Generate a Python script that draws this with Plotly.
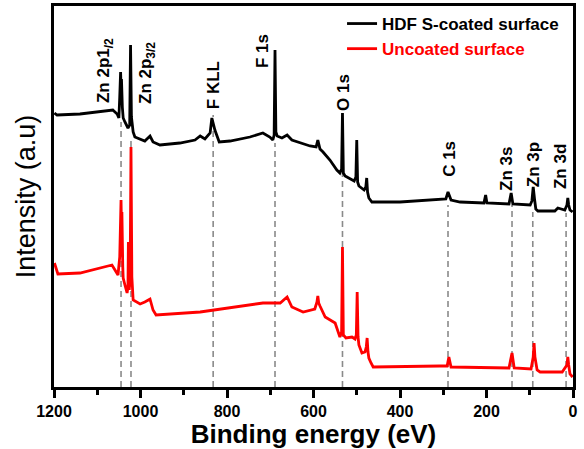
import plotly.graph_objects as go

# ---------------- data ----------------
coated_energy = [1199, 1193, 1140, 1094, 1064, 1054, 1050, 1048, 1046, 1045, 1044, 1042, 1040, 1036,
                 1029, 1025, 1023, 1021, 1017, 1013, 1001, 990, 978, 971, 955, 909, 874, 862, 851,
                 839, 835, 828, 818, 793, 747, 717, 701, 694, 691, 689, 687, 684, 673, 661, 650,
                 631, 608, 594, 590, 585, 578, 562, 546, 539, 535, 533, 531, 527, 516, 506, 502,
                 500, 498, 495, 483, 479, 477, 475, 472, 465, 400, 308, 294, 289, 282, 261, 206,
                 202, 199, 148, 143, 139, 99, 95, 92, 89, 86, 81, 42, 35, 19, 14, 12, 10, 7, 1]
coated_intensity = [274, 272, 273, 275, 277, 273, 269, 290, 315, 300, 308, 280, 269, 265,
                    259, 262, 342, 270, 255, 250, 248, 246, 251, 245, 242, 244, 247, 251, 248,
                    254, 269, 257, 245, 246, 250, 254, 250, 247, 252, 337, 255, 251, 249, 252, 247,
                    244, 241, 240, 247, 238, 235, 227, 217, 214, 218, 274, 214, 211, 208, 206, 210,
                    247, 205, 201, 197, 200, 209, 195, 189, 185, 185, 187, 188, 195, 187, 185, 184,
                    192, 184, 183, 194, 183, 182, 186, 200, 188, 178, 176, 176, 179, 177, 182, 189,
                    182, 177, 175]

uncoated_energy = [1199, 1195, 1191, 1140, 1094, 1066, 1059, 1052, 1048, 1045, 1044, 1043, 1041, 1040,
                   1036, 1031, 1029, 1028, 1026, 1024, 1022, 1020, 1017, 1001, 990, 978, 971, 964,
                   862, 717, 677, 661, 650, 624, 597, 592, 590, 588, 585, 573, 550, 539, 535, 533,
                   531, 525, 511, 504, 501, 499, 497, 495, 488, 481, 478, 476, 474, 472, 467, 462,
                   308, 291, 287, 282, 148, 141, 136, 97, 92, 90, 88, 83, 76, 25, 14, 12, 10, 7, 1]
uncoated_intensity = [124, 117, 113, 114, 119, 122, 117, 112, 130, 187, 160, 175, 120, 109,
                      102, 94, 100, 145, 97, 110, 240, 110, 87, 83, 85, 88, 77, 72,
                      75, 84, 84, 90, 80, 75, 78, 85, 91, 84, 81, 70, 64, 50, 55, 140,
                      52, 49, 50, 48, 52, 95, 50, 42, 34, 35, 40, 49, 35, 29, 24, 20,
                      21, 21, 30, 20, 19, 34, 19, 18, 30, 44, 30, 17, 15, 15, 22, 30, 22, 13, 10]

peak_names = ["Zn 2p1<sub>/2</sub>", "Zn 2p<sub>3/2</sub>", "F KLL", "F 1s", "O 1s",
              "C 1s", "Zn 3s", "Zn 3p", "Zn 3d"]
peak_energy = [1045, 1022, 832, 689, 533, 289, 141, 93, 16]
guide_top = [265, 250, 272, 244, 214, 182, 182, 175, 174]
label_energy = [1082, 985, 832, 719, 532, 287, 155, 92, 30]
label_intensity = [316, 314, 302, 336, 295, 228, 218, 222, 220]

x_ticks = [1200, 1000, 800, 600, 400, 200, 0]

FONT = "Arial, Liberation Sans, sans-serif"

fig = go.Figure()

# dashed guide lines
gx, gy = [], []
for e, t in zip(peak_energy, guide_top):
    gx += [e, e, None]
    gy += [0, t, None]
fig.add_trace(go.Scatter(x=gx, y=gy, mode="lines", showlegend=False, hoverinfo="skip",
                         line=dict(color="#8a8a8a", width=1.6, dash="6px,4px")))

fig.add_trace(go.Scatter(x=coated_energy, y=coated_intensity, mode="lines",
                         name="HDF S-coated surface",
                         line=dict(color="black", width=2.8)))
fig.add_trace(go.Scatter(x=uncoated_energy, y=uncoated_intensity, mode="lines",
                         name="<span style='color:#ff0000'>Uncoated surface</span>",
                         line=dict(color="#ff0000", width=2.8)))

for name, e, i in zip(peak_names, label_energy, label_intensity):
    fig.add_annotation(x=e, y=i, text=name, textangle=-90, showarrow=False,
                       xanchor="center", yanchor="middle",
                       font=dict(family=FONT, size=17, color="black", weight="bold"))

fig.update_layout(
    width=584, height=449,
    margin=dict(l=54, r=11, t=6, b=62, autoexpand=False),
    paper_bgcolor="white", plot_bgcolor="white",
    font=dict(family=FONT, color="black"),
    legend=dict(x=0.555, y=1.0, xanchor="left", yanchor="top",
                bgcolor="rgba(0,0,0,0)", tracegroupgap=0,
                font=dict(family=FONT, size=17, color="black", weight="bold")),
    xaxis=dict(range=[1200, 0], tickvals=x_ticks, ticks="outside", ticklen=8, tickwidth=2.5,
               tickcolor="black", showline=True, linewidth=2.5, linecolor="black", mirror=True,
               showgrid=False, zeroline=False, automargin=False,
               tickfont=dict(family=FONT, size=16, color="black", weight="bold"),
               minor=dict(tickvals=[1100, 900, 700, 500, 300, 100], ticks="outside",
                          ticklen=5, tickwidth=2.5, tickcolor="black"),
               title=dict(text="Binding energy (eV)", standoff=3,
                          font=dict(family=FONT, size=26, color="black", weight="bold"))),
    yaxis=dict(range=[0, 381], showticklabels=False, ticks="", showline=True, linewidth=2.5,
               linecolor="black", mirror=True, showgrid=False, zeroline=False, automargin=False,
               title=dict(text="Intensity (a.u)", standoff=8,
                          font=dict(family=FONT, size=27, color="black"))),
)

fig.write_html("out.html", config={"displayModeBar": False},
               post_script="document.body.style.margin='0';")
